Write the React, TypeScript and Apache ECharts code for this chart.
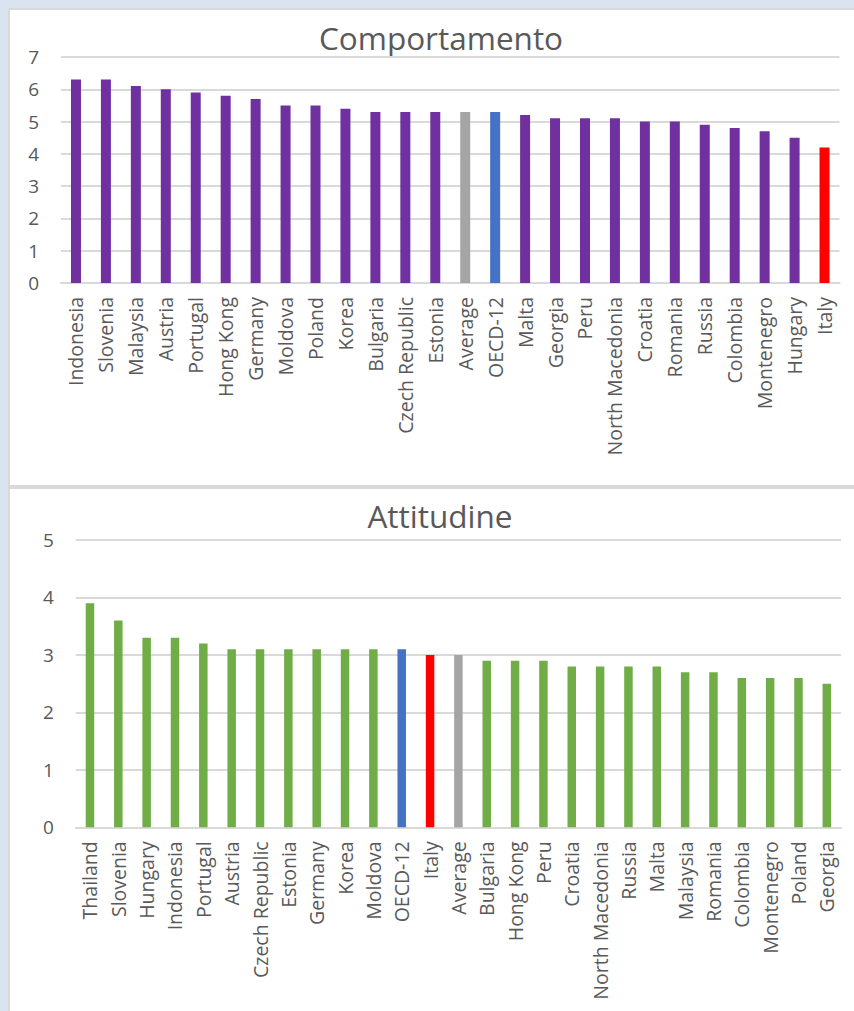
import React, { useEffect, useRef } from "react";
import * as echarts from "echarts";

const topTitle = "Comportamento";
const topCategories = [
  "Indonesia", "Slovenia", "Malaysia", "Austria", "Portugal", "Hong Kong", "Germany",
  "Moldova", "Poland", "Korea", "Bulgaria", "Czech Republic", "Estonia", "Average",
  "OECD-12", "Malta", "Georgia", "Peru", "North Macedonia", "Croatia", "Romania",
  "Russia", "Colombia", "Montenegro", "Hungary", "Italy",
];
const topValues = [
  6.3, 6.3, 6.1, 6.0, 5.9, 5.8, 5.7, 5.5, 5.5, 5.4, 5.3, 5.3, 5.3, 5.3, 5.3, 5.2,
  5.1, 5.1, 5.1, 5.0, 5.0, 4.9, 4.8, 4.7, 4.5, 4.2,
];
const topTicks = [0, 1, 2, 3, 4, 5, 6, 7];

const bottomTitle = "Attitudine";
const bottomCategories = [
  "Thailand", "Slovenia", "Hungary", "Indonesia", "Portugal", "Austria", "Czech Republic",
  "Estonia", "Germany", "Korea", "Moldova", "OECD-12", "Italy", "Average", "Bulgaria",
  "Hong Kong", "Peru", "Croatia", "North Macedonia", "Russia", "Malta", "Malaysia",
  "Romania", "Colombia", "Montenegro", "Poland", "Georgia",
];
const bottomValues = [
  3.9, 3.6, 3.3, 3.3, 3.2, 3.1, 3.1, 3.1, 3.1, 3.1, 3.1, 3.1, 3.0, 3.0, 2.9, 2.9,
  2.9, 2.8, 2.8, 2.8, 2.8, 2.7, 2.7, 2.6, 2.6, 2.6, 2.5,
];
const bottomTicks = [0, 1, 2, 3, 4, 5];

const FONT = "'Open Sans', 'Noto Sans', sans-serif";
const TEXT = "#595959";
const GRIDC = "#d9d9d9";

function colorFor(name: string, base: string) {
  if (name === "Italy") return "#ff0000";
  if (name === "OECD-12") return "#4472c4";
  if (name === "Average") return "#a5a5a5";
  return base;
}

export default function App() {
  const ref = useRef<HTMLDivElement>(null);
  useEffect(() => {
    if (!ref.current) return;
    const chart = echarts.init(ref.current, undefined, { renderer: "svg" });
    const yAxisBase = (ticks: number[]) => ({
      type: "value" as const,
      min: ticks[0],
      max: ticks[ticks.length - 1],
      interval: 1,
      axisLine: { show: false },
      axisTick: { show: false },
      splitLine: { show: true, lineStyle: { color: GRIDC, width: 2 } },
      axisLabel: { color: TEXT, fontSize: 19, fontFamily: FONT, margin: 22 },
    });
    const xAxisBase = (cats: string[]) => ({
      type: "category" as const,
      data: cats,
      axisLine: { show: true, lineStyle: { color: GRIDC, width: 2 } },
      axisTick: { show: false },
      axisLabel: {
        interval: 0,
        rotate: 90,
        color: TEXT,
        fontSize: 19.5,
        fontFamily: FONT,
        margin: 14,
      },
    });
    chart.setOption({
      animation: false,
      backgroundColor: "transparent",
      grid: [
        { left: 61, right: 14.5, top: 57, height: 226 },
        { left: 75.8, right: 13, top: 540, height: 287.3 },
      ],
      xAxis: [
        { ...xAxisBase(topCategories), gridIndex: 0 },
        { ...xAxisBase(bottomCategories), gridIndex: 1 },
      ],
      yAxis: [
        { ...yAxisBase(topTicks), gridIndex: 0 },
        { ...yAxisBase(bottomTicks), gridIndex: 1 },
      ],
      graphic: [
        {
          type: "text",
          x: 441,
          y: 37,
          style: {
            text: topTitle,
            fill: TEXT,
            font: `31.5px ${FONT}`,
            textAlign: "center",
            textVerticalAlign: "middle",
          },
        },
        {
          type: "text",
          x: 440,
          y: 515,
          style: {
            text: bottomTitle,
            fill: TEXT,
            font: `31.5px ${FONT}`,
            textAlign: "center",
            textVerticalAlign: "middle",
          },
        },
      ],
      series: [
        {
          type: "bar",
          xAxisIndex: 0,
          yAxisIndex: 0,
          barWidth: 10,
          data: topValues.map((v, i) => ({
            value: v,
            itemStyle: { color: colorFor(topCategories[i], "#7030a0") },
          })),
        },
        {
          type: "bar",
          xAxisIndex: 1,
          yAxisIndex: 1,
          barWidth: 8.5,
          data: bottomValues.map((v, i) => ({
            value: v,
            itemStyle: { color: colorFor(bottomCategories[i], "#70ad47") },
          })),
        },
      ],
    });
    return () => chart.dispose();
  }, []);

  return (
    <div
      style={{
        position: "fixed",
        left: 0,
        top: 0,
        width: 854,
        height: 1011,
        background: "#dae3f0",
        overflow: "hidden",
      }}
    >
      <div
        style={{
          position: "absolute",
          left: 8,
          top: 8,
          width: 860,
          height: 475,
          background: "#ffffff",
          border: "2px solid #d9d9d9",
        }}
      />
      <div
        style={{
          position: "absolute",
          left: 8,
          top: 487,
          width: 860,
          height: 540,
          background: "#ffffff",
          border: "2px solid #d9d9d9",
        }}
      />
      <div
        ref={ref}
        style={{ position: "absolute", left: 0, top: 0, width: 854, height: 1011 }}
      />
    </div>
  );
}
